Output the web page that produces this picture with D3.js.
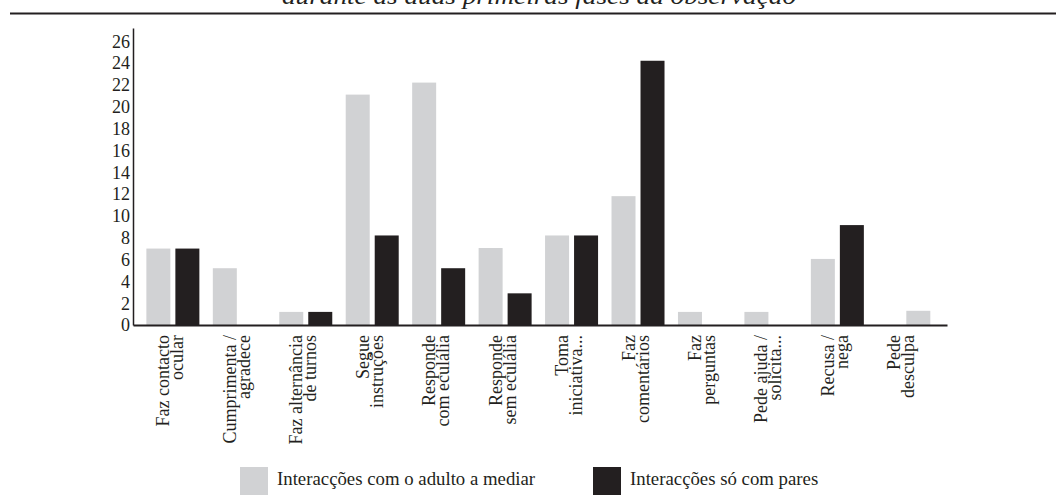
<!DOCTYPE html>
<html>
<head>
<meta charset="utf-8">
<script src="https://cdn.jsdelivr.net/npm/d3@7"></script>
<style>
  html, body { margin: 0; padding: 0; background: #fff; }
  svg { display: block; }
  text { font-family: "Liberation Serif", "Times New Roman", serif; fill: #231f20; }
</style>
</head>
<body>
<svg id="chart" width="1056" height="497"></svg>
<script>
// ---- data ----
const categories = [
  "Faz contacto ocular", "Cumprimenta / agradece", "Faz alternância de turnos",
  "Segue instruções", "Responde com eculália", "Responde sem eculália",
  "Toma iniciativa...", "Faz comentários", "Faz perguntas",
  "Pede ajuda / solicita...", "Recusa / nega", "Pede desculpa"
];
const tickLabels = [
  ["Faz contacto", "ocular"], ["Cumprimenta /", "agradece"], ["Faz alternância", "de turnos"],
  ["Segue", "instruções"], ["Responde", "com eculália"], ["Responde", "sem eculália"],
  ["Toma", "iniciativa..."], ["Faz", "comentários"], ["Faz", "perguntas"],
  ["Pede ajuda /", "solicita..."], ["Recusa /", "nega"], ["Pede", "desculpa"]
];
const seriesNames = ["Interacções com o adulto a mediar", "Interacções só com pares"];
const adultoValues = [7, 5.2, 1.2, 21.1, 22.2, 7.05, 8.2, 11.8, 1.2, 1.2, 6.05, 0];
const paresValues  = [7, 0, 1.2, 8.2, 5.2, 2.9, 8.2, 24.2, 0, 0, 9.15, 1.3];
const yTicks = [0, 2, 4, 6, 8, 10, 12, 14, 16, 18, 20, 22, 24, 26];
const titleText = "durante as duas primeiras fases da observação";

// ---- styles ----
const GREY = "#d1d2d4", BLACK = "#231f20";
const seriesColors = [GREY, BLACK];

const svg = d3.select("#chart");

// cut-off title (as in the reference) and rule
svg.append("text")
  .attr("x", 282).attr("y", 4)
  .attr("font-size", 24).attr("font-style", "italic")
  .attr("textLength", 514).attr("lengthAdjust", "spacingAndGlyphs")
  .text(titleText);
svg.append("line")
  .attr("x1", 10).attr("x2", 1056).attr("y1", 13.5).attr("y2", 13.5)
  .attr("stroke", BLACK).attr("stroke-width", 2);

// scales
const x0 = d3.scaleBand().domain(categories).range([133, 947])
  .paddingInner(0).paddingOuter(0.125).align(0.4);
const x1 = d3.scaleBand().domain([0, 1])
  .range([(x0.bandwidth() - 53) / 2, (x0.bandwidth() + 53) / 2])
  .paddingInner(5 / 29).paddingOuter(0);
const y = d3.scaleLinear().domain([0, 27.2]).range([325, 28]);

// bars
const rows = categories.map((c, i) => ({ cat: c, vals: [adultoValues[i], paresValues[i]] }));
const g = svg.append("g");
const groups = g.selectAll("g.grp").data(rows).join("g")
  .attr("class", "grp")
  .attr("transform", d => `translate(${x0(d.cat)},0)`);
groups.selectAll("rect").data(d => d.vals.map((v, k) => ({ k, v, cat: d.cat }))).join("rect")
  .attr("x", d => x1(d.k))
  .attr("width", x1.bandwidth())
  .attr("y", d => y(d.v))
  .attr("height", d => y(0) - y(d.v))
  // the reference draws the "Pede desculpa" pares bar in grey
  .attr("fill", d => (d.cat === "Pede desculpa" && d.k === 1) ? GREY : seriesColors[d.k]);

// y axis
const yAxis = svg.append("g").attr("transform", "translate(133,0)")
  .call(d3.axisLeft(y).tickValues(yTicks).tickSize(0).tickSizeOuter(0).tickPadding(3));
yAxis.select(".domain").attr("stroke", BLACK).attr("stroke-width", 1.5);
yAxis.selectAll("text").attr("font-size", 18).attr("font-family", '"Liberation Serif", serif')
  .attr("fill", BLACK).attr("dy", "0.33em");

// x axis
const xAxis = svg.append("g").attr("transform", "translate(0,325)")
  .call(d3.axisBottom(x0).tickSize(0).tickSizeOuter(0).tickFormat(""));
xAxis.select(".domain").attr("stroke", BLACK).attr("stroke-width", 2);
xAxis.selectAll(".tick text").remove();
xAxis.selectAll(".tick").each(function(d, i) {
  const t = d3.select(this).append("text")
    .attr("transform", "translate(0,10) rotate(-90)")
    .attr("text-anchor", "end")
    .attr("font-size", 18)
    .attr("font-family", '"Liberation Serif", serif')
    .attr("fill", BLACK);
  t.append("tspan").attr("x", 0).attr("y", -3.5).text(tickLabels[i][0]);
  t.append("tspan").attr("x", 0).attr("y", 10.5).text(tickLabels[i][1]);
});

// legend
const legendX = [240, 593];
seriesNames.forEach((name, k) => {
  svg.append("rect").attr("x", legendX[k]).attr("y", 467).attr("width", 28).attr("height", 28)
    .attr("fill", seriesColors[k]);
  svg.append("text").attr("x", legendX[k] + 37).attr("y", 485)
    .attr("font-size", 18.8).text(name);
});
</script>
</body>
</html>
